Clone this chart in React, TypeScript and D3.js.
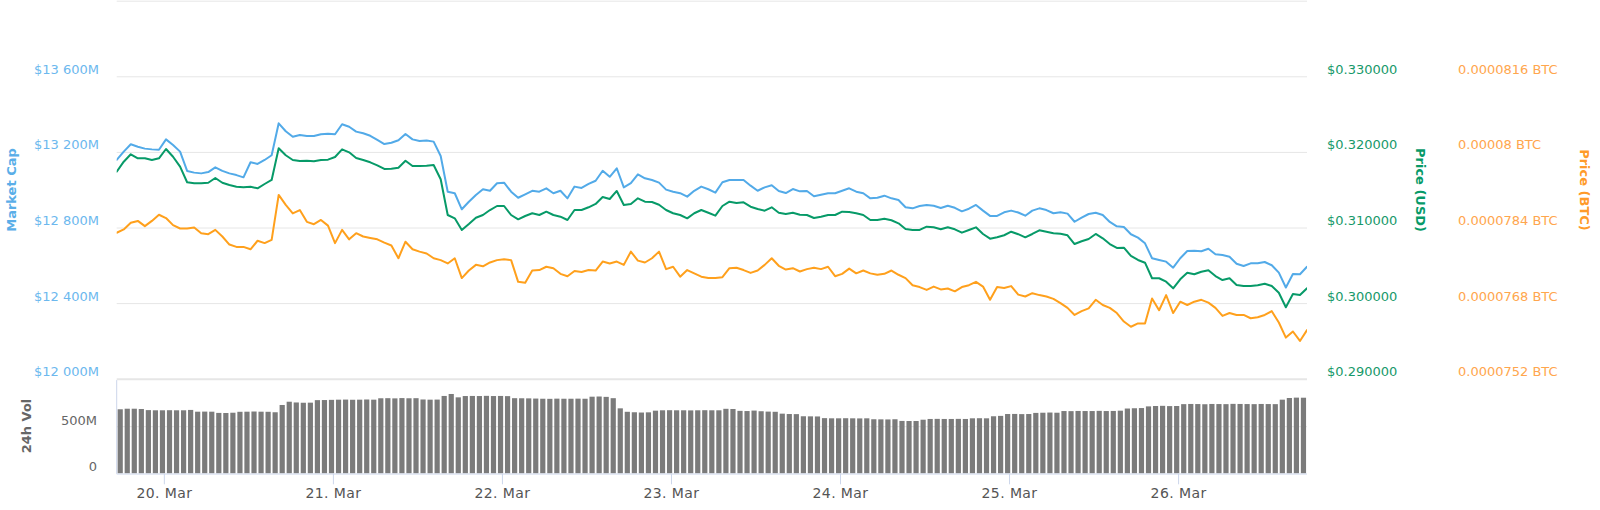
import React from 'react';
import * as d3 from 'd3';

// ---------- data ----------
const startTime = Date.UTC(2019, 2, 19, 17, 14);
const HOUR = 3600 * 1000;
const spanHours = 169;

// Market cap, million USD (hourly)
const marketCap = [
  13160, 13204, 13243, 13230, 13220, 13216, 13214, 13269, 13239, 13204,
  13102, 13093, 13089, 13096, 13121, 13102, 13089, 13080, 13068, 13148,
  13139, 13160, 13185, 13354, 13312, 13283, 13292, 13287, 13287, 13296,
  13299, 13296, 13349, 13336, 13310, 13301, 13288, 13266, 13244, 13251,
  13264, 13297, 13269, 13260, 13263, 13257, 13181, 12992, 12984, 12899,
  12939, 12975, 13005, 12997, 13037, 13040, 12992, 12960, 12978, 12997,
  12992, 13010, 12984, 12997, 12957, 13019, 13012, 13033, 13050, 13103,
  13071, 13116, 13015, 13037, 13084, 13063, 13054, 13040, 13003, 12992,
  12984, 12966, 12997, 13019, 13005, 12987, 13042, 13054, 13054, 13054,
  13024, 12997, 13015, 13026, 12996, 12985, 13006, 12994, 12996, 12968,
  12976, 12984, 12984, 12997, 13010, 12992, 12984, 12957, 12960, 12971,
  12957, 12948, 12910, 12904, 12916, 12922, 12918, 12906, 12918, 12907,
  12888, 12902, 12922, 12892, 12864, 12864, 12883, 12892, 12882, 12865,
  12892, 12904, 12895, 12878, 12883, 12876, 12833, 12855, 12874, 12881,
  12869, 12832, 12809, 12805, 12767, 12749, 12719, 12640, 12631, 12622,
  12590, 12640, 12678, 12680, 12677, 12690, 12661, 12657, 12648, 12611,
  12599, 12613, 12613, 12620, 12603, 12564, 12485, 12557, 12555, 12595,
];

// Price in USD (hourly)
const priceUsd = [
  0.31745, 0.31877, 0.31975, 0.31922, 0.31922, 0.319, 0.31922, 0.32045, 0.31943, 0.31811,
  0.31605, 0.31591, 0.31591, 0.31599, 0.31661, 0.31599, 0.31569, 0.31546, 0.31538, 0.31546,
  0.31525, 0.31582, 0.31635, 0.32054, 0.31962, 0.319, 0.31886, 0.3189, 0.31882, 0.319,
  0.31904, 0.31939, 0.32041, 0.32001, 0.31926, 0.319, 0.31869, 0.31829, 0.31781, 0.31784,
  0.31798, 0.3189, 0.3182, 0.3182, 0.31822, 0.31833, 0.31644, 0.31172, 0.31128, 0.30974,
  0.31053, 0.31136, 0.31172, 0.31238, 0.31291, 0.31291, 0.31172, 0.31115, 0.31159, 0.31195,
  0.31172, 0.31216, 0.31172, 0.3115, 0.31106, 0.31238, 0.31238, 0.31274, 0.31318, 0.3141,
  0.31384, 0.3149, 0.31304, 0.31318, 0.31393, 0.31348, 0.31344, 0.31308, 0.31238, 0.31195,
  0.31172, 0.31128, 0.31195, 0.31238, 0.31202, 0.31163, 0.31291, 0.31348, 0.31331, 0.3134,
  0.31282, 0.31251, 0.31229, 0.31274, 0.31202, 0.31185, 0.31202, 0.31176, 0.31172, 0.31132,
  0.3115, 0.31172, 0.31172, 0.31216, 0.31212, 0.31195, 0.31172, 0.31106, 0.31106, 0.31123,
  0.31102, 0.31062, 0.30987, 0.30974, 0.30974, 0.31017, 0.31009, 0.30983, 0.31009, 0.30983,
  0.30938, 0.30974, 0.31009, 0.30921, 0.30859, 0.30877, 0.30904, 0.30951, 0.30918, 0.30877,
  0.30921, 0.3097, 0.30951, 0.3093, 0.30925, 0.30904, 0.30788, 0.30824, 0.30855, 0.30921,
  0.30864, 0.30788, 0.30736, 0.3074, 0.3063, 0.30577, 0.30541, 0.30335, 0.30335, 0.3029,
  0.30202, 0.30321, 0.30409, 0.30388, 0.30422, 0.30441, 0.30365, 0.30312, 0.30335, 0.30246,
  0.30233, 0.30233, 0.30242, 0.30263, 0.30233, 0.30144, 0.29952, 0.30127, 0.30114, 0.30202,
];

// Price in BTC, expressed in satoshi (hourly)
const priceSats = [
  7830, 7837, 7851, 7855, 7844, 7855, 7868, 7861, 7846, 7839,
  7839, 7841, 7829, 7827, 7836, 7822, 7805, 7800, 7800, 7795,
  7813, 7808, 7815, 7910, 7889, 7871, 7878, 7853, 7848, 7857,
  7845, 7808, 7836, 7816, 7829, 7822, 7819, 7816, 7809, 7803,
  7776, 7811, 7795, 7790, 7786, 7776, 7772, 7765, 7776, 7734,
  7750, 7762, 7759, 7767, 7772, 7774, 7772, 7726, 7724, 7750,
  7751, 7758, 7755, 7743, 7738, 7749, 7747, 7751, 7750, 7769,
  7765, 7769, 7762, 7790, 7771, 7767, 7776, 7790, 7753, 7758,
  7737, 7751, 7744, 7737, 7734, 7734, 7736, 7755, 7756, 7751,
  7745, 7750, 7762, 7776, 7760, 7752, 7755, 7748, 7753, 7756,
  7753, 7758, 7738, 7743, 7754, 7744, 7750, 7744, 7741, 7743,
  7750, 7741, 7734, 7719, 7715, 7709, 7716, 7710, 7712, 7706,
  7715, 7719, 7726, 7716, 7688, 7715, 7713, 7717, 7699, 7695,
  7702, 7698, 7695, 7690, 7681, 7671, 7656, 7664, 7670, 7688,
  7677, 7671, 7660, 7642, 7631, 7638, 7638, 7691, 7666, 7698,
  7660, 7684, 7677, 7684, 7688, 7682, 7671, 7654, 7660, 7656,
  7656, 7649, 7651, 7656, 7664, 7640, 7608, 7621, 7601, 7624,
];

// 24h volume, million USD (hourly bars)
const volume24h = [
  687, 693, 693, 690, 678, 676, 676, 677, 676, 676, 680, 661, 662, 661, 648, 647, 650,
  660, 661, 663, 661, 660, 655, 733, 768, 760, 757, 758, 785, 786, 788,
  790, 791, 789, 790, 792, 790, 805, 806, 804, 807, 805, 806, 792, 790, 791,
  830, 851, 815, 829, 830, 829, 831, 829, 830, 828, 806, 805, 804,
  802, 800, 799, 801, 800, 800, 801, 800, 822, 824, 820, 806, 697,
  660, 655, 652, 654, 672, 676, 677, 676, 676, 675, 676, 677, 676, 676, 692, 690,
  670, 668, 673, 666, 662, 660, 640, 636, 635, 612, 611, 610,
  592, 590, 590, 591, 590, 589, 590, 580, 579, 578, 580, 562, 561, 561,
  575, 583, 584, 583, 583, 584, 583, 590, 591, 590, 612, 616,
  636, 637, 635, 636, 648, 650, 652, 650,
  668, 667, 669, 668, 668, 670, 668, 669, 672, 695, 698, 700,
  718, 722, 724, 721, 722,
  742, 744, 743, 741, 744, 743, 742, 745, 744, 743, 742, 744, 743, 742,
  790, 808, 812, 811,
];

const dayLabels = ['20. Mar', '21. Mar', '22. Mar', '23. Mar', '24. Mar', '25. Mar', '26. Mar'];
const capTicks = [12000, 12400, 12800, 13200, 13600, 14000];
const usdTicks = [0.29, 0.3, 0.31, 0.32, 0.33, 0.34];
const btcTicks = [0.0000752, 0.0000768, 0.0000784, 0.00008, 0.0000816, 0.0000832];
const volTicks = [0, 500];

// ---------- layout ----------
const W = 1600;
const H = 510;
const left = 116.7;
const right = 1307;
const priceTop = 1.2;
const priceBottom = 379.2;
const volTop = 380.1;
const volBottom = 473.3;

const C_BLUE = '#52aae8';
const C_GREEN = '#079a68';
const C_ORANGE = '#ffa01c';
const FONT = 'DejaVu Sans, sans-serif';

export default function App() {
  const x = d3.scaleUtc().domain([startTime, startTime + spanHours * HOUR]).range([left, right]);
  const yCap = d3.scaleLinear().domain([12000, 14000]).range([priceBottom, priceTop]);
  const yUsd = d3.scaleLinear().domain([0.29, 0.34]).range([priceBottom, priceTop]);
  const yBtc = d3.scaleLinear().domain([0.0000752, 0.0000832]).range([priceBottom, priceTop]);
  const yVol = d3.scaleLinear().domain([0, 1000]).range([volBottom, volTop]);

  const priceBtc = priceSats.map((s) => s / 1e8);
  const timeAt = (i: number) => startTime + i * HOUR;

  const mkLine = (scale: d3.ScaleLinear<number, number>) =>
    d3
      .line<number>()
      .x((_, i) => x(timeAt(i)))
      .y((d) => scale(d));

  const capFmt = (v: number) => '$' + d3.format(',')(v).replace(',', ' ') + 'M';
  const usdFmt = (v: number) => '$' + v.toFixed(6);
  const btcFmt = (v: number) => String(parseFloat(v.toFixed(7))) + ' BTC';

  const barW = 5.2;
  const dayTimes = dayLabels.map((_, i) => Date.UTC(2019, 2, 20 + i));
  const shownCap = capTicks.slice(0, -1);
  const shownUsd = usdTicks.slice(0, -1);
  const shownBtc = btcTicks.slice(0, -1);

  return (
    <svg
      width={W}
      height={H}
      style={{ position: 'absolute', left: 0, top: 0, background: '#fff' }}
      fontFamily={FONT}
    >
      <defs>
        <clipPath id="plotClip">
          <rect x={left} y={0} width={right - left} height={priceBottom + 1} />
        </clipPath>
      </defs>

      {/* price grid */}
      {capTicks.map((t, i) => (
        <line
          key={'g' + t}
          x1={left}
          x2={right}
          y1={yCap(t)}
          y2={yCap(t)}
          stroke="#e6e6e6"
          strokeWidth={i === 0 ? 2 : 1}
        />
      ))}

      {/* volume grid */}
      <line x1={left} x2={right} y1={yVol(500)} y2={yVol(500)} stroke="#e6e6e6" strokeWidth={1} />

      {/* volume bars */}
      <g>
        {volume24h.map((v, i) => {
          const x0 = x(timeAt(i)) + 0.9;
          return (
            <rect
              key={'b' + i}
              x={x0}
              y={yVol(v)}
              width={barW}
              height={volBottom - yVol(v)}
              fill="#7b7b7b"
            />
          );
        })}
      </g>

      {/* volume axis lines */}
      <line x1={left} x2={left} y1={volTop} y2={volBottom + 0.5} stroke="#ccd6eb" strokeWidth={1} />
      <line x1={left} x2={right} y1={volBottom + 0.7} y2={volBottom + 0.7} stroke="#ccd6eb" strokeWidth={1} />
      {dayTimes.map((t) => (
        <line key={'t' + t} x1={x(t)} x2={x(t)} y1={volBottom + 0.7} y2={volBottom + 11} stroke="#ccd6eb" strokeWidth={1} />
      ))}

      {/* lines */}
      <g clipPath="url(#plotClip)" fill="none" strokeWidth={2} strokeLinejoin="round" strokeLinecap="round">
        <path d={mkLine(yBtc)(priceBtc) || ''} stroke={C_ORANGE} />
        <path d={mkLine(yUsd)(priceUsd) || ''} stroke={C_GREEN} />
        <path d={mkLine(yCap)(marketCap) || ''} stroke={C_BLUE} />
      </g>

      {/* left axis labels */}
      {shownCap.map((t) => (
        <text key={'cl' + t} x={99} y={yCap(t) - 3} textAnchor="end" fontSize={13} fill="#6cb8ee">
          {capFmt(t)}
        </text>
      ))}
      <text
        transform={`translate(16,190) rotate(-90)`}
        textAnchor="middle"
        fontSize={13}
        fontWeight="bold"
        fill="#5aaee8"
      >
        Market Cap
      </text>

      {volTicks.map((t) => (
        <text key={'vl' + t} x={97} y={yVol(t) - 2} textAnchor="end" fontSize={13} fill="#666666">
          {t === 0 ? '0' : t + 'M'}
        </text>
      ))}
      <text
        transform={`translate(31,426) rotate(-90)`}
        textAnchor="middle"
        fontSize={13}
        fontWeight="bold"
        fill="#666666"
      >
        24h Vol
      </text>

      {/* right axes */}
      {shownUsd.map((t) => (
        <text key={'ul' + t} x={1327} y={yUsd(t) - 3} fontSize={13} fill="#17996a">
          {usdFmt(t)}
        </text>
      ))}
      <text
        transform={`translate(1416,190) rotate(90)`}
        textAnchor="middle"
        fontSize={13}
        fontWeight="bold"
        fill="#079a68"
      >
        Price (USD)
      </text>

      {shownBtc.map((t) => (
        <text key={'bl' + t} x={1458} y={yBtc(t) - 3} fontSize={13} fill="#ffa64d">
          {btcFmt(t)}
        </text>
      ))}
      <text
        transform={`translate(1580,190) rotate(90)`}
        textAnchor="middle"
        fontSize={13}
        fontWeight="bold"
        fill="#ff9a2a"
      >
        Price (BTC)
      </text>

      {/* x labels */}
      {dayLabels.map((d, i) => (
        <text
          key={'x' + d}
          x={x(dayTimes[i])}
          y={497.5}
          textAnchor="middle"
          fontSize={14}
          letterSpacing={0.4}
          fill="#555555"
        >
          {d}
        </text>
      ))}
    </svg>
  );
}
